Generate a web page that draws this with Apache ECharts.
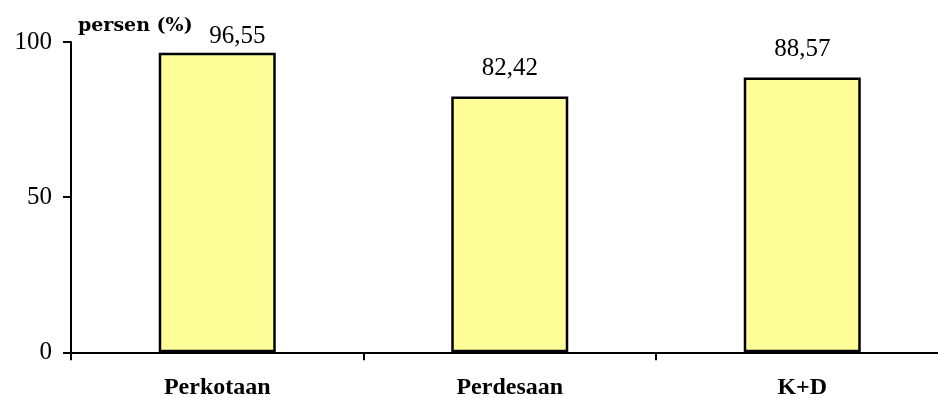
<!DOCTYPE html>
<html>
<head>
<meta charset="utf-8">
<script src="https://cdn.jsdelivr.net/npm/echarts@6/dist/echarts.min.js"></script>
<style>html,body{margin:0;padding:0;background:#fff}#c{width:938px;height:398px}</style>
</head>
<body>
<div id="c"></div>
<script>
const categories = ['Perkotaan', 'Perdesaan', 'K+D'];
const values = [96.55, 82.42, 88.57];
const valueLabels = ['96,55', '82,42', '88,57'];
const yTicks = [0, 50, 100];
const yAxisTitle = 'persen (%)';

const chart = echarts.init(document.getElementById('c'));
const serif = '"Liberation Serif", "Times New Roman", serif';
chart.setOption({
  animation: false,
  grid: { left: 71, width: 877.5, top: 42, height: 310.3, containLabel: false, outerBoundsMode: 'none' },
  xAxis: {
    type: 'category',
    data: categories,
    axisLine: { lineStyle: { color: '#000', width: 2 } },
    axisTick: { show: true, length: 8, lineStyle: { color: '#000', width: 2 } },
    axisLabel: { color: '#000', fontFamily: serif, fontWeight: 'bold', fontSize: 24, margin: 23 }
  },
  yAxis: {
    type: 'value',
    min: yTicks[0], max: yTicks[yTicks.length - 1], interval: 50,
    axisLine: { show: true, lineStyle: { color: '#000', width: 2 } },
    axisTick: { show: true, length: 8, lineStyle: { color: '#000', width: 2 } },
    splitLine: { show: false },
    axisLabel: { color: '#000', fontFamily: serif, fontSize: 25, margin: 19 }
  },
  graphic: [{
    type: 'text', left: 78, top: 17,
    style: { text: yAxisTitle, font: 'bold 19px "DejaVu Serif", serif', fill: '#000' }
  }],
  series: [{
    type: 'bar',
    barWidth: '40%',
    data: values.map((v, i) => ({
      value: v,
      label: i === 0 ? { offset: [20, 12] } : {}
    })),
    itemStyle: { color: '#FFFF99', borderColor: '#000', borderWidth: 2.5 },
    label: {
      show: true, position: 'top', distance: 16,
      color: '#000', fontFamily: serif, fontSize: 25,
      formatter: p => valueLabels[p.dataIndex]
    }
  }]
});
</script>
</body>
</html>
